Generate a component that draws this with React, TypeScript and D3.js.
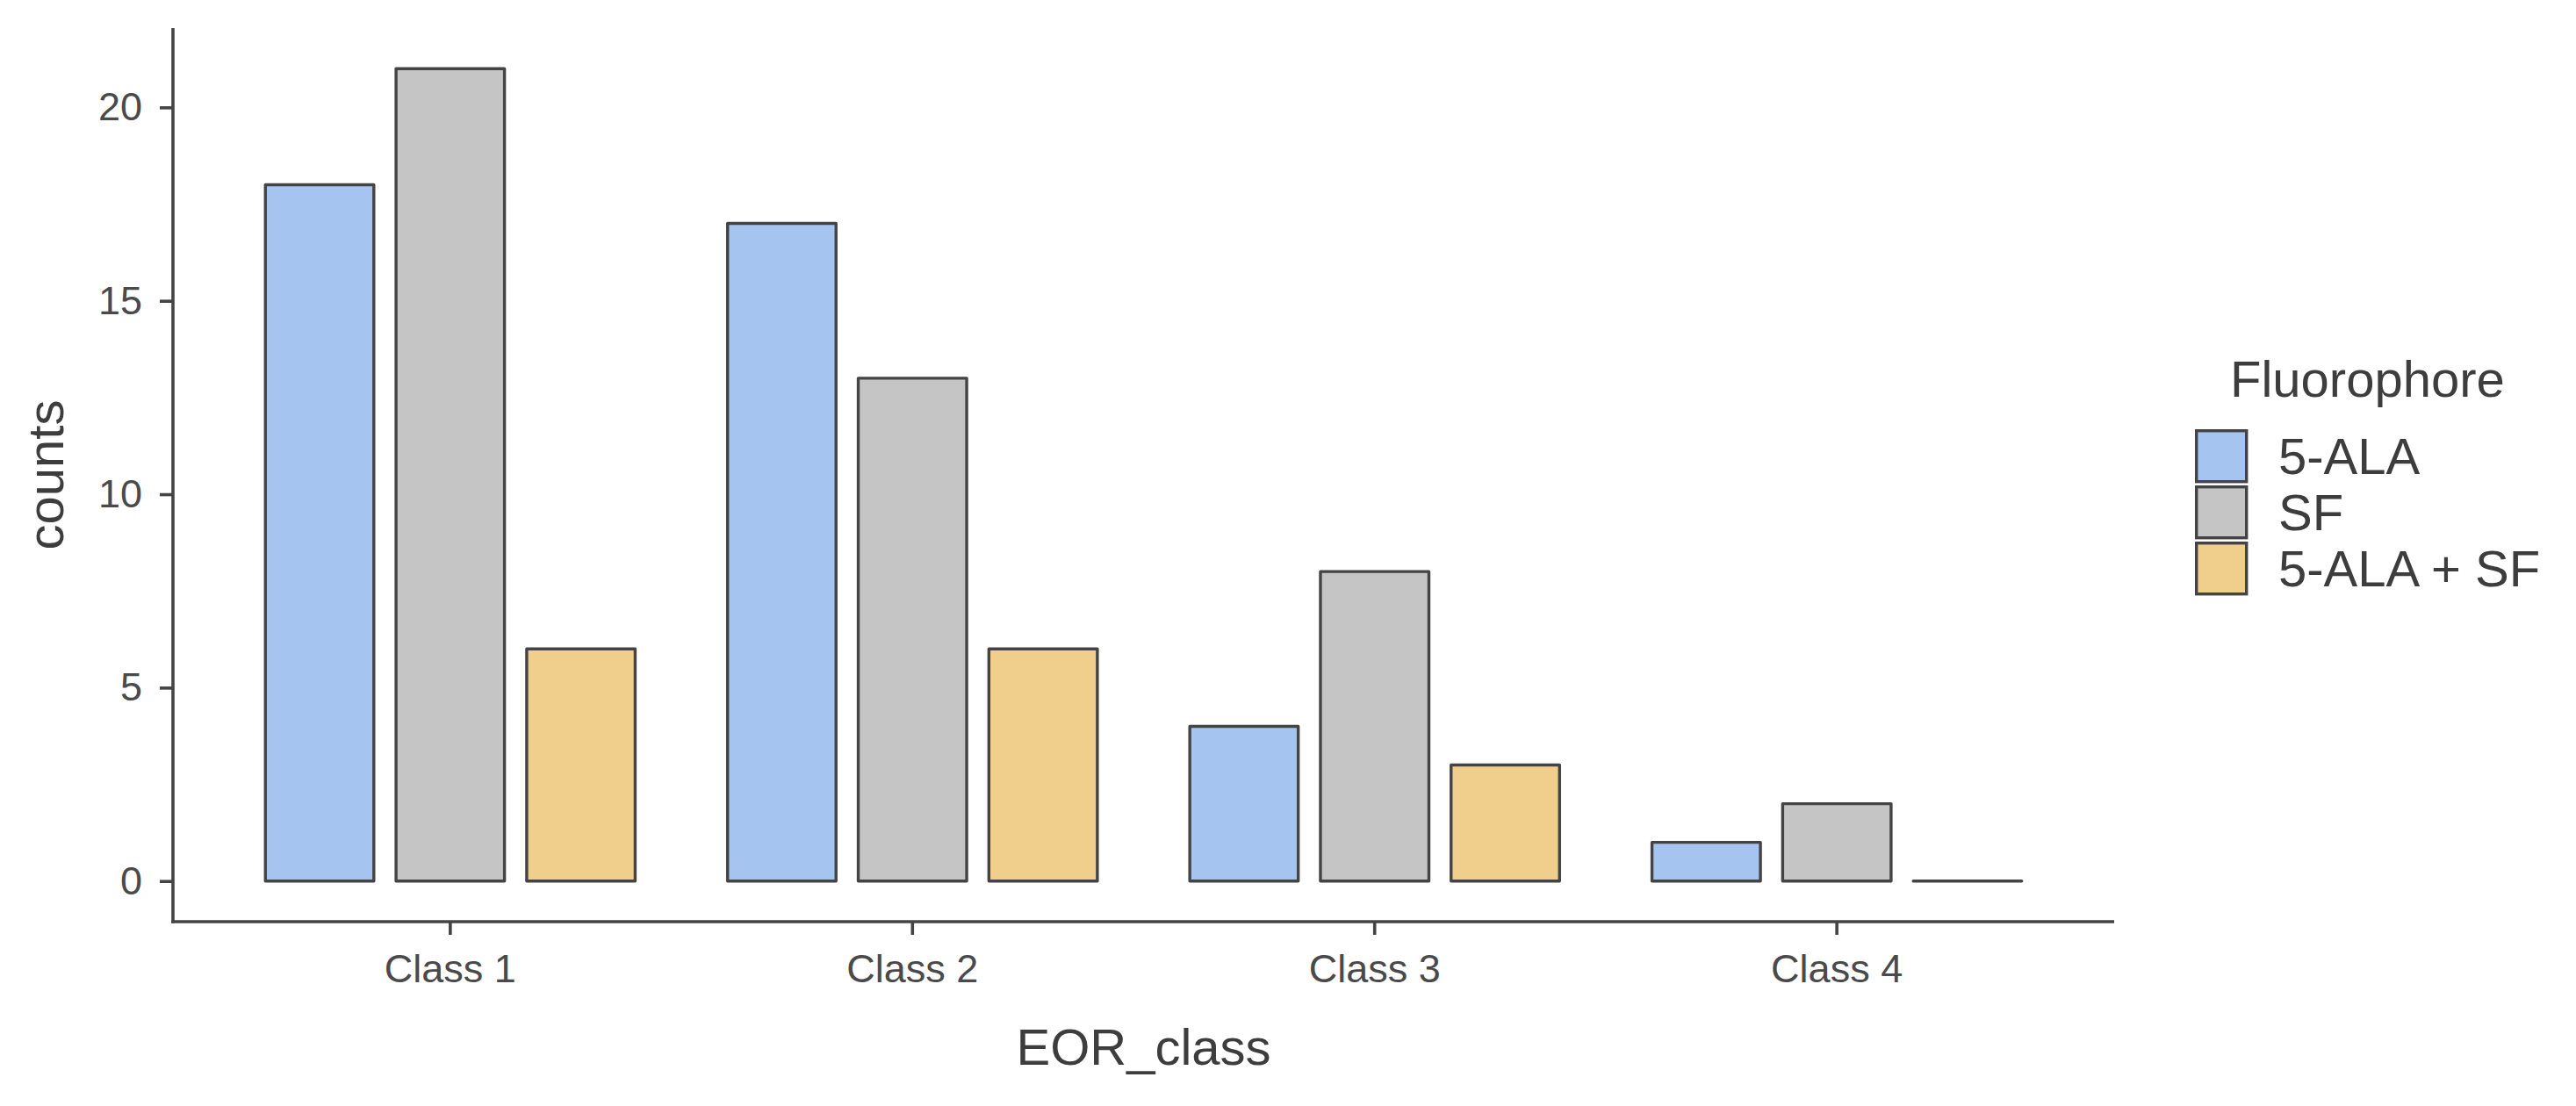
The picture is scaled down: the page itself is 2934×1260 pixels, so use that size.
import React, { useEffect, useRef } from "react";
import * as d3 from "d3";

// data
const classes = ["Class 1", "Class 2", "Class 3", "Class 4"];
const fluorophores = ["5-ALA", "SF", "5-ALA + SF"];
const ala = [18, 17, 4, 1];
const sf = [21, 13, 8, 2];
const alaSf = [6, 6, 3, 0];
const yTicks = [0, 5, 10, 15, 20];
const fills = ["#A6C4F0", "#C5C5C5", "#F0CE8C"];

const W = 2934,
  H = 1260;
const FONT = "'Liberation Sans', Arial, Helvetica, sans-serif";

export default function App() {
  const ref = useRef<SVGSVGElement>(null);

  useEffect(() => {
    const svg = d3.select(ref.current);
    svg.selectAll("*").remove();

    const left = 197,
      right = 2408,
      top = 32,
      bottom = 1050;

    const x = d3
      .scaleBand()
      .domain(classes)
      .range([left, right])
      .paddingInner(0.2)
      .paddingOuter(0.2);
    const xs = d3
      .scaleBand()
      .domain(fluorophores)
      .range([0, x.bandwidth()])
      .paddingInner(0.17);
    const y = d3.scaleLinear().domain([-1.05, 22.05]).range([bottom, top]);
    const color = d3.scaleOrdinal<string, string>().domain(fluorophores).range(fills);

    const series = [ala, sf, alaSf];
    const rows: { cls: string; fl: string; v: number }[] = [];
    classes.forEach((c, i) => {
      fluorophores.forEach((f, j) => {
        rows.push({ cls: c, fl: f, v: series[j][i] });
      });
    });

    // bars as paths so the zero bar still shows its outline
    svg
      .append("g")
      .selectAll("path")
      .data(rows)
      .enter()
      .append("path")
      .attr("d", d => {
        const x0 = x(d.cls)! + xs(d.fl)!;
        const x1 = x0 + xs.bandwidth();
        const p = d3.path();
        p.moveTo(x0, y(0));
        p.lineTo(x0, y(d.v));
        p.lineTo(x1, y(d.v));
        p.lineTo(x1, y(0));
        p.closePath();
        return p.toString();
      })
      .attr("fill", d => color(d.fl))
      .attr("stroke", "#444")
      .attr("stroke-width", 3.4)
      .attr("stroke-linejoin", "round");

    // y axis
    const ya = svg
      .append("g")
      .attr("transform", `translate(${left},0)`)
      .call(
        d3
          .axisLeft(y)
          .tickValues(yTicks)
          .tickSize(15)
          .tickPadding(20)
          .tickSizeOuter(0)
      );
    // x axis
    const xa = svg
      .append("g")
      .attr("transform", `translate(0,${bottom})`)
      .call(d3.axisBottom(x).tickSize(15).tickPadding(22).tickSizeOuter(0));

    [ya, xa].forEach(a => {
      a.select(".domain").attr("stroke", "#444").attr("stroke-width", 3.6);
      a.selectAll(".tick line").attr("stroke", "#444").attr("stroke-width", 3.6);
      a.selectAll(".tick text")
        .attr("fill", "#4a4a4a")
        .attr("font-size", 45)
        .attr("font-family", FONT);
    });
    // join the two axis lines at the corner
    xa.select(".domain").attr("d", `M${left - 1.8},0H${right}`);
    ya.select(".domain").attr("d", `M0,${top}V${bottom + 1.8}`);

    // axis titles
    svg
      .append("text")
      .attr("x", (left + right) / 2)
      .attr("y", 1213)
      .attr("text-anchor", "middle")
      .attr("font-size", 58)
      .attr("font-family", FONT)
      .attr("fill", "#3d3d3d")
      .text("EOR_class");
    svg
      .append("text")
      .attr("transform", `translate(72,${(top + bottom) / 2}) rotate(-90)`)
      .attr("text-anchor", "middle")
      .attr("font-size", 58)
      .attr("font-family", FONT)
      .attr("fill", "#3d3d3d")
      .text("counts");

    // legend
    const lg = svg.append("g").attr("transform", "translate(2500,0)");
    lg.append("text")
      .attr("x", 40)
      .attr("y", 452)
      .attr("font-size", 58)
      .attr("font-family", FONT)
      .attr("fill", "#3d3d3d")
      .text("Fluorophore");
    const item = lg
      .selectAll("g.item")
      .data(fluorophores)
      .enter()
      .append("g")
      .attr("class", "item")
      .attr("transform", (d, i) => `translate(0,${489 + i * 64})`);
    item
      .append("rect")
      .attr("x", 1.7)
      .attr("y", 1.7)
      .attr("width", 57)
      .attr("height", 58)
      .attr("fill", d => color(d))
      .attr("stroke", "#444")
      .attr("stroke-width", 3.4);
    item
      .append("text")
      .attr("x", 95)
      .attr("y", 31)
      .attr("dy", "0.35em")
      .attr("font-size", 58)
      .attr("font-family", FONT)
      .attr("fill", "#3d3d3d")
      .text(d => d);
  }, []);

  return (
    <div>
      <style>{`body{margin:0}`}</style>
      <svg ref={ref} width={W} height={H} style={{ display: "block", background: "#fff" }} />
    </div>
  );
}
